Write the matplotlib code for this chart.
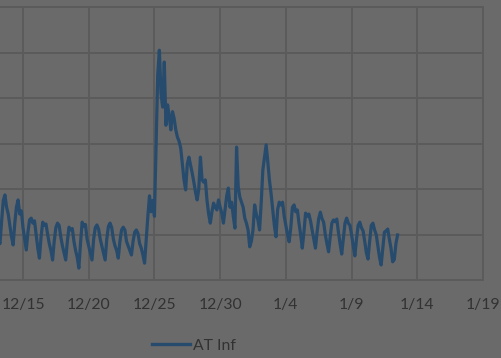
import matplotlib
matplotlib.use("Agg")
import matplotlib.pyplot as plt
from datetime import datetime, timedelta

# ---- data -----------------------------------------------------------------
series_name = "AT Inf"
first_sample = datetime(2018, 12, 13, 0, 0)
sample_step_hours = 3

# one row per day, readings at 00,03,06,09,12,15,18,21 h
dec13 = [10.5, 9.0, 8.0, 13.0, 17.5, 18.7, 16.0, 14.5]
dec14 = [12.0, 9.5, 7.7, 12.5, 16.0, 17.6, 14.5, 15.2]
dec15 = [11.5, 9.0, 6.6, 10.5, 13.2, 13.6, 12.5, 13.0]
dec16 = [10.0, 7.0, 4.8, 9.5, 12.7, 12.0, 12.3, 10.0]
dec17 = [8.0, 6.5, 4.4, 8.5, 11.5, 12.5, 12.0, 9.5]
dec18 = [7.5, 6.0, 4.4, 8.5, 11.6, 11.0, 11.3, 8.5]
dec19 = [6.5, 5.0, 2.6, 8.0, 12.7, 11.8, 12.2, 9.0]
dec20 = [7.5, 6.0, 4.4, 9.0, 11.5, 12.1, 11.2, 9.0]
dec21 = [7.5, 6.0, 4.4, 9.0, 11.8, 12.5, 11.5, 9.0]
dec22 = [7.5, 6.5, 4.8, 8.5, 11.0, 11.6, 11.0, 8.5]
dec23 = [7.5, 6.5, 5.5, 8.5, 10.5, 11.0, 10.2, 8.0]
dec24 = [7.0, 5.5, 3.7, 9.0, 14.0, 18.5, 15.0, 17.5]
dec25 = [14.0, 30.0, 45.0, 50.5, 41.0, 38.0, 47.9, 34.0]
dec26 = [38.5, 36.0, 33.0, 37.0, 35.5, 33.0, 31.4, 30.5]
dec27 = [29.0, 25.5, 22.0, 19.8, 25.5, 27.0, 25.3, 23.5]
dec28 = [21.5, 19.3, 17.6, 20.0, 27.0, 22.0, 21.5, 22.0]
dec29 = [17.5, 14.5, 12.5, 15.0, 16.9, 16.0, 15.4, 17.6]
dec30 = [16.0, 14.7, 12.5, 15.5, 18.5, 20.2, 16.0, 17.1]
dec31 = [14.0, 11.4, 29.2, 20.5, 18.2, 17.1, 16.0, 13.6]
jan01 = [12.5, 11.0, 7.3, 8.5, 11.0, 16.5, 14.5, 13.2]
jan02 = [11.0, 17.0, 24.2, 27.0, 29.7, 26.0, 22.0, 19.0]
jan03 = [15.4, 12.0, 9.5, 15.5, 17.1, 16.5, 17.1, 14.0]
jan04 = [12.0, 10.0, 8.4, 11.5, 16.0, 16.5, 15.0, 15.4]
jan05 = [12.5, 10.0, 7.0, 10.5, 14.7, 14.0, 14.5, 13.0]
jan06 = [11.0, 9.0, 7.0, 10.5, 13.5, 14.9, 13.5, 12.7]
jan07 = [10.0, 8.0, 6.2, 9.5, 12.5, 13.2, 12.8, 13.4]
jan08 = [10.5, 8.0, 5.7, 9.0, 12.5, 13.6, 12.5, 12.0]
jan09 = [10.0, 7.5, 5.3, 9.0, 12.0, 12.7, 11.5, 10.8]
jan10 = [8.5, 6.0, 4.6, 8.5, 12.0, 12.5, 11.0, 10.0]
jan11 = [7.5, 5.0, 3.3, 7.0, 10.5, 10.8, 11.2, 9.0]
jan12 = [7.0, 4.0, 4.5, 8.0, 9.9]

daily_rows = [dec13, dec14, dec15, dec16, dec17, dec18, dec19, dec20, dec21,
              dec22, dec23, dec24, dec25, dec26, dec27, dec28, dec29, dec30,
              dec31, jan01, jan02, jan03, jan04, jan05, jan06, jan07, jan08,
              jan09, jan10, jan11, jan12]

tick_dates = [datetime(2018, 12, 15), datetime(2018, 12, 20), datetime(2018, 12, 25),
              datetime(2018, 12, 30), datetime(2019, 1, 4), datetime(2019, 1, 9),
              datetime(2019, 1, 14), datetime(2019, 1, 19)]
tick_labels = ["12/15", "12/20", "12/25", "12/30", "1/4", "1/9", "1/14", "1/19"]
y_ticks = [0, 10, 20, 30, 40, 50, 60]

values = [v for row in daily_rows for v in row]
times = [first_sample + timedelta(hours=sample_step_hours * i) for i in range(len(values))]

# ---- style ------------------------------------------------------------------
bg = "#6a6a6a"
grid_c = "#5b5b5b"
text_c = "#323232"
line_c = "#274b6d"

W, H = 502, 358
fig = plt.figure(figsize=(W / 100, H / 100), dpi=100, facecolor=bg)

left_px, right_px, top_px, bottom_px = 0, 483, 7, 280
ax = fig.add_axes([left_px / W, 1 - bottom_px / H,
                   (right_px - left_px) / W, (bottom_px - top_px) / H])
ax.set_facecolor(bg)

ax.plot(times, values, color=line_c, lw=2.3, solid_joinstyle="round",
        label=series_name)

x0 = tick_dates[0] - timedelta(hours=42)
ax.set_xlim(x0, tick_dates[-1])
ax.set_ylim(y_ticks[0], y_ticks[-1])
ax.set_xticks(tick_dates)
ax.set_xticklabels(tick_labels)
ax.set_yticks(y_ticks)
ax.tick_params(axis="y", left=False, labelleft=False)
ax.tick_params(axis="x", length=0, pad=13, labelsize=11.3, labelcolor=text_c)
for lab in ax.get_xticklabels():
    lab.set_fontfamily(["Lato", "DejaVu Sans"])

ax.grid(True, color=grid_c, lw=1.4)
ax.set_axisbelow(True)
for side in ("top", "right", "bottom"):
    ax.spines[side].set_color(grid_c)
    ax.spines[side].set_linewidth(1.4)
ax.spines["left"].set_visible(False)

leg = fig.legend(loc="center left", bbox_to_anchor=(152 / W, 1 - 345.7 / H),
                 frameon=False, borderpad=0, borderaxespad=0,
                 handlelength=2.4, handletextpad=0.2,
                 prop={"family": ["Lato", "DejaVu Sans"], "size": 11.3})
for t in leg.get_texts():
    t.set_color(text_c)
for h in leg.get_lines():
    h.set_linewidth(2.4)

fig.savefig("out.png", dpi=100, facecolor=bg)
